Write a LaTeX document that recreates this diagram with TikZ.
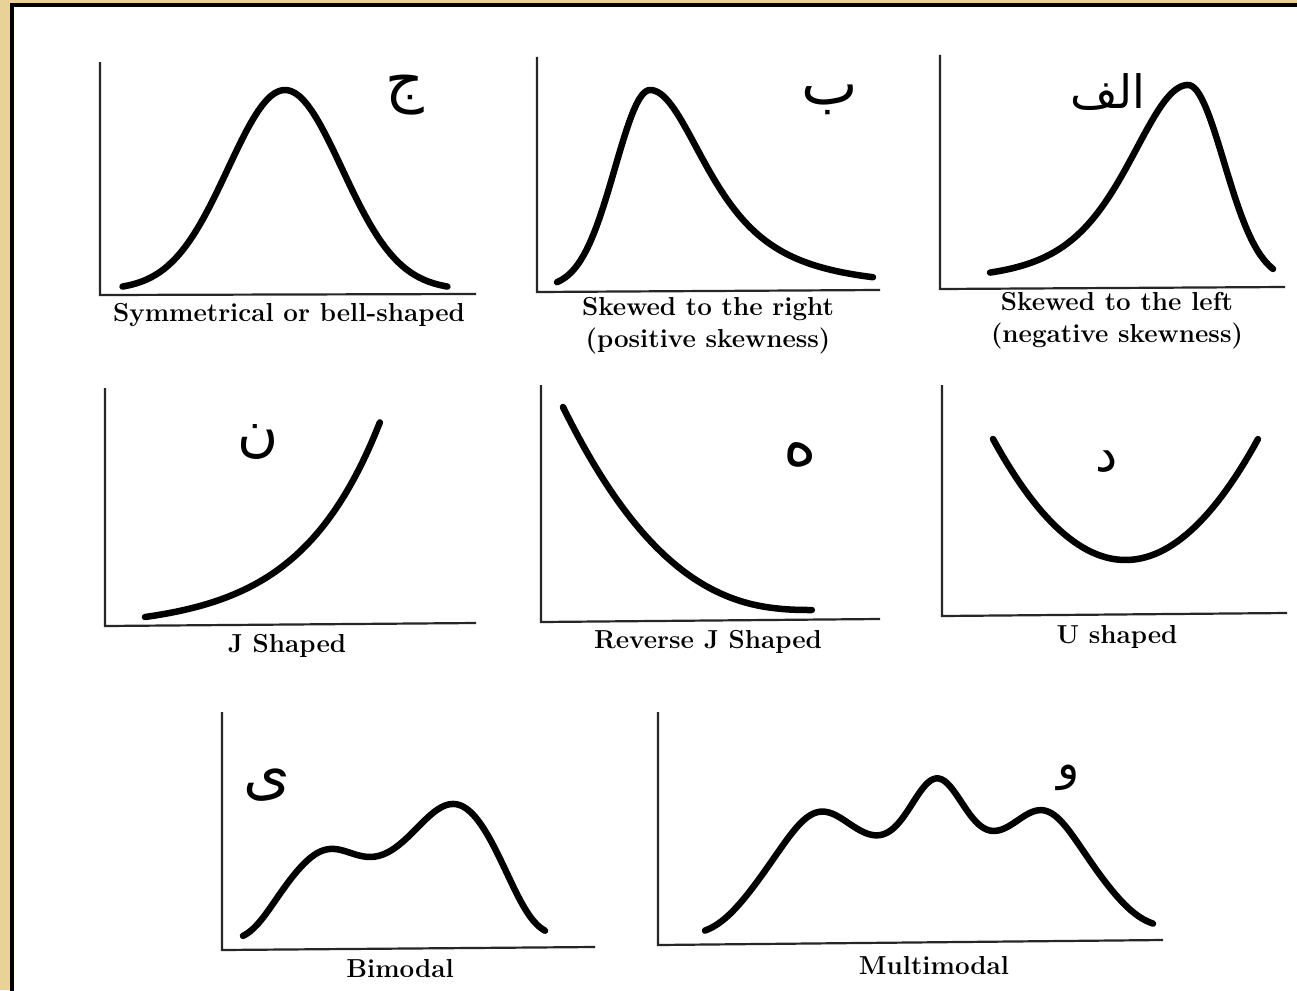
\documentclass[tikz,border=0pt]{standalone}
\usepackage{fontspec}
\newfontfamily\arabicfont[Script=Arabic]{DejaVu Sans}
\TeXXeTstate=1
\definecolor{frametan}{RGB}{233,210,152}
\begin{document}
\begin{tikzpicture}[x=1pt,y=-1pt,
  every node/.style={font=\bfseries\fontsize{26}{32}\selectfont,inner sep=1pt,align=center},
  axis/.style={line width=2.2pt,black!85},
  curve/.style={line width=6.5pt,line cap=round,line join=round},
  letter/.style={font=\arabicfont\fontsize{#1}{#1}\selectfont},
  letter/.default=46]
  \useasboundingbox (0,0) rectangle (1297,990);
  % frame
  \fill[frametan] (0,0) rectangle (1297,990);
  \begin{scope}
    \clip (0,0) rectangle (1297,990);
    \filldraw[fill=white,draw=black,line width=4pt] (12,5.5) rectangle (1310,1005);
  \end{scope}
  % axes
  \coordinate (T1) at (100,62);   \coordinate (O1) at (100,295); \coordinate (E1) at (476,294);
  \coordinate (T2) at (537,57);   \coordinate (O2) at (537,292); \coordinate (E2) at (880,290);
  \coordinate (T3) at (940,55);   \coordinate (O3) at (940,289); \coordinate (E3) at (1285,287);
  \coordinate (T4) at (105,388);  \coordinate (O4) at (105,626); \coordinate (E4) at (476,623);
  \coordinate (T5) at (541,385);  \coordinate (O5) at (541,622); \coordinate (E5) at (880,619);
  \coordinate (T6) at (942,385);  \coordinate (O6) at (942,616); \coordinate (E6) at (1287,613);
  \coordinate (T7) at (222,712);  \coordinate (O7) at (222,950); \coordinate (E7) at (595,947);
  \coordinate (T8) at (658,712);  \coordinate (O8) at (658,945); \coordinate (E8) at (1163,940);
  \draw[axis] (T1)--(O1)--(E1);
  \draw[axis] (T2)--(O2)--(E2);
  \draw[axis] (T3)--(O3)--(E3);
  \draw[axis] (T4)--(O4)--(E4);
  \draw[axis] (T5)--(O5)--(E5);
  \draw[axis] (T6)--(O6)--(E6);
  \draw[axis] (T7)--(O7)--(E7);
  \draw[axis] (T8)--(O8)--(E8);
  % curves
  \draw[curve] plot[domain=-2.85:2.85,samples=80] ({285+57*\x},{290-200*exp(-0.5*\x*\x)});
  \draw[curve] plot[domain=557:873,samples=120]
    (\x,{288-198*(\x<650 ? exp(-0.5*pow((\x-650)/35,2)) : pow(1+pow((\x-650)/91.4,2),-1.5))});
  \draw[curve] plot[domain=990:1273,samples=120]
    (\x,{281-196*(\x>1188 ? exp(-0.5*pow((\x-1188)/36,2)) : pow(1+pow((\x-1188)/124.7,2),-2.5))});
  \draw[curve] plot[domain=0:1,samples=60] ({145+235*\x},{617-195*(exp(2.9*\x)-1)/(exp(2.9)-1)});
  \draw[curve] plot[domain=0:1,samples=60] ({563+249*\x},{610-203*pow(1-\x,2.5)});
  \draw[curve] plot[domain=-1:1,samples=60] ({1125.5+132.5*\x},{560-121*\x*\x});
  \draw[curve] plot[domain=243:545,samples=120]
    (\x,{940-3*(\x-243)/302-72*exp(-pow((\x-392)/125,6))
      -19*exp(-0.5*pow((\x-328)/25,2))-63*exp(-0.5*pow((\x-455)/38,2))});
  \draw[curve] plot[domain=705:1153,samples=160]
    (\x,{935-7*(\x-705)/448-88*exp(-pow((\x-929)/186.6,6))
      -37*exp(-0.5*pow((\x-818)/30,2))-65*exp(-0.5*pow((\x-937)/25,2))
      -36*exp(-0.5*pow((\x-1045)/28,2))});
  % labels
  \node (labBell) at (289,315) {Symmetrical or bell-shaped};
  \node (labRight) at (708,326) {Skewed to the right\\(positive skewness)};
  \node (labLeft) at (1117,321) {Skewed to the left\\(negative skewness)};
  \node (labJ) at (287,646) {J Shaped};
  \node (labRevJ) at (708,642) {Reverse J Shaped};
  \node (labU) at (1117,637) {U shaped};
  \node (labBi) at (400,969) {Bimodal};
  \node (labMulti) at (934,966) {Multimodal};
  % letters
  \node[letter=60] (letBell) at (405,95) {\beginR ج\endR};
  \node[letter=60] (letRight) at (830,100) {\beginR ب\endR};
  \node[letter] (letLeft) at (1108,92) {\beginR الف\endR};
  \node[letter=56] (letJ) at (258,442) {\beginR ن\endR};
  \node[letter=64] (letRevJ) at (800,455) {\beginR ه\endR};
  \node[letter=50] (letU) at (1107,462) {\beginR د\endR};
  \node[letter=60] (letBi) at (267,785) {\beginR ی\endR};
  \node[letter] (letMulti) at (1069,778) {\beginR و\endR};
\end{tikzpicture}
\end{document}
